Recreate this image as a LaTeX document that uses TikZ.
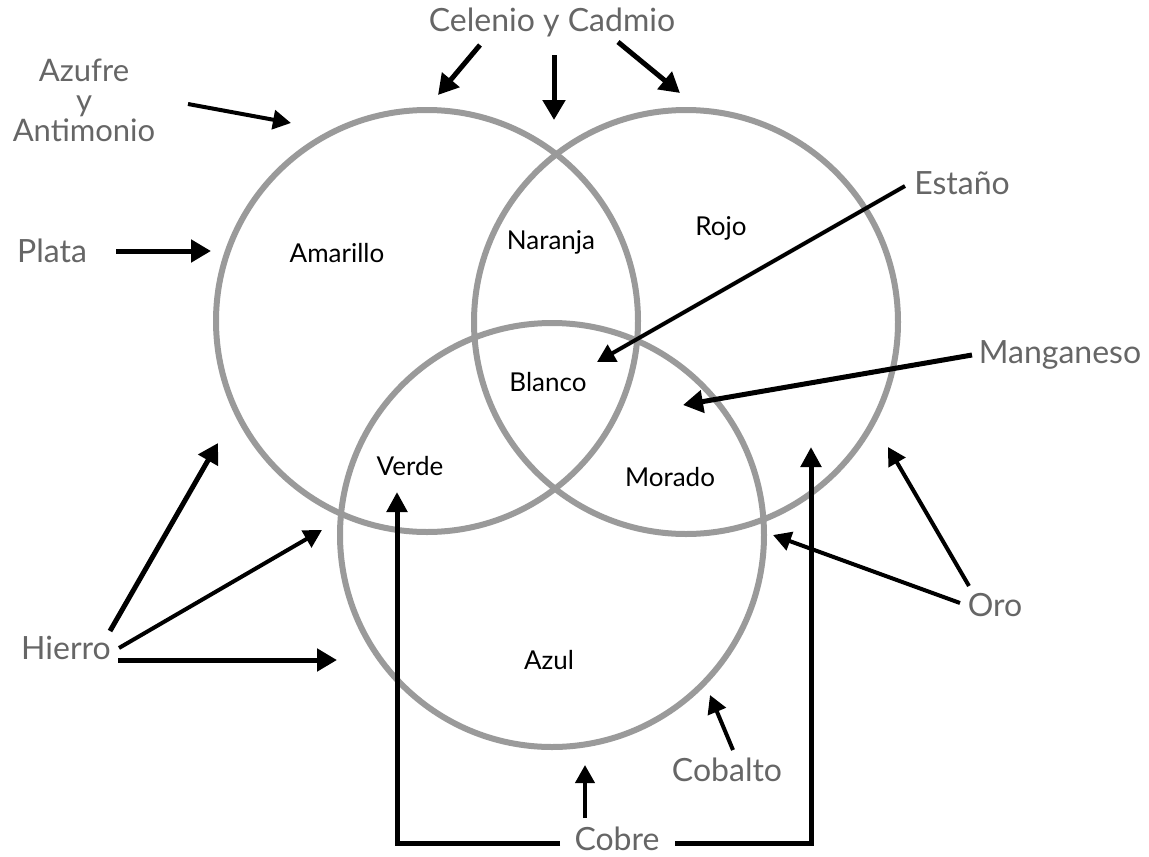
\documentclass[tikz,border=0pt]{standalone}
\usepackage{fontspec}
\setmainfont{Lato}
\usetikzlibrary{arrows.meta}
\definecolor{circgray}{HTML}{9A9A9A}
\definecolor{labgray}{HTML}{666666}
\begin{document}
\begin{tikzpicture}[x=1pt,y=-1pt,
  circ/.style={draw=circgray,line width=6pt},
  outer/.style={text=labgray,font=\fontsize{32}{28}\selectfont,inner sep=0pt},
  inner/.style={text=black,font=\fontsize{26}{28}\selectfont,inner sep=0pt},
  arr/.style={draw=black,line width=5pt,-{Triangle[length=20pt,width=22pt]}},
  thinarr/.style={draw=black,line width=4pt,-{Triangle[length=18pt,width=19pt]}},
  bracket/.style={draw=black,line width=5pt}]
\useasboundingbox (0,0) rectangle (1149,857);
\fill[white] (0,0) rectangle (1149,857);
% circles
\draw[circ] (427,321) circle[radius=211pt];
\draw[circ] (686,322) circle[radius=212pt];
\draw[circ] (552,535) circle[radius=212pt];
% inner labels
\node[inner] (amarillo) at (337,253) {Amarillo};
\node[inner] (naranja) at (551,242) {Naranja};
\node[inner] (rojo) at (721,228) {Rojo};
\node[inner] (blanco) at (548,382) {Blanco};
\node[inner] (verde) at (410,466) {Verde};
\node[inner] (morado) at (670,477) {Morado};
\node[inner] (azul) at (549,660) {Azul};
% outer labels
\node[outer,align=center,font=\fontsize{31}{30}\selectfont] (azufre) at (84,100) {Azufre\\y\\Antimonio};
\node[outer] (plata) at (52,251) {Plata};
\node[outer] (celenio) at (552,22) {Celenio y Cadmio};
\node[outer] (estano) at (962,183) {Estaño};
\node[outer] (manganeso) at (1060,355) {Manganeso};
\node[outer] (oro) at (995,605) {Oro};
\node[outer] (hierro) at (66,648) {Hierro};
\node[outer] (cobalto) at (727,770) {Cobalto};
\node[outer] (cobre) at (617,839) {Cobre};
% connector coordinates
\coordinate (azS) at (188,104); \coordinate (azT) at (291,123);
\coordinate (plS) at (116,251); \coordinate (plT) at (211,251);
\coordinate (c1S) at (480,45); \coordinate (c1T) at (438,95);
\coordinate (c2S) at (554,55); \coordinate (c2T) at (554,120);
\coordinate (c3S) at (618,42); \coordinate (c3T) at (680,93);
\coordinate (esS) at (905,186); \coordinate (esT) at (597,362);
\coordinate (mnS) at (972,355); \coordinate (mnT) at (683,405);
\coordinate (o1S) at (969,586); \coordinate (o1T) at (888,447);
\coordinate (o2S) at (960,603); \coordinate (o2T) at (773,535);
\coordinate (h1S) at (110,631); \coordinate (h1T) at (218,443);
\coordinate (h2S) at (119,648); \coordinate (h2T) at (322,530);
\coordinate (h3S) at (118,660); \coordinate (h3T) at (337,660);
\coordinate (cbS) at (733,750); \coordinate (cbT) at (710,695);
\coordinate (cuS) at (585,818); \coordinate (cuT) at (585,765);
\coordinate (cuL) at (560,843); \coordinate (cuLc) at (397,843); \coordinate (cuLT) at (397,492);
\coordinate (cuR) at (675,843); \coordinate (cuRc) at (811,843); \coordinate (cuRT) at (811,447);
% connectors
\draw[thinarr] (azS) -- (azT);
\draw[arr] (plS) -- (plT);
\draw[arr] (c1S) -- (c1T);
\draw[arr] (c2S) -- (c2T);
\draw[arr] (c3S) -- (c3T);
\draw[thinarr] (esS) -- (esT);
\draw[arr] (mnS) -- (mnT);
\draw[thinarr] (o1S) -- (o1T);
\draw[thinarr] (o2S) -- (o2T);
\draw[arr] (h1S) -- (h1T);
\draw[thinarr] (h2S) -- (h2T);
\draw[arr] (h3S) -- (h3T);
\draw[thinarr] (cbS) -- (cbT);
\draw[thinarr] (cuS) -- (cuT);
\draw[bracket,-{Triangle[length=20pt,width=20pt]}] (cuL) -- (cuLc) -- (cuLT);
\draw[bracket,-{Triangle[length=20pt,width=20pt]}] (cuR) -- (cuRc) -- (cuRT);
\end{tikzpicture}
\end{document}
